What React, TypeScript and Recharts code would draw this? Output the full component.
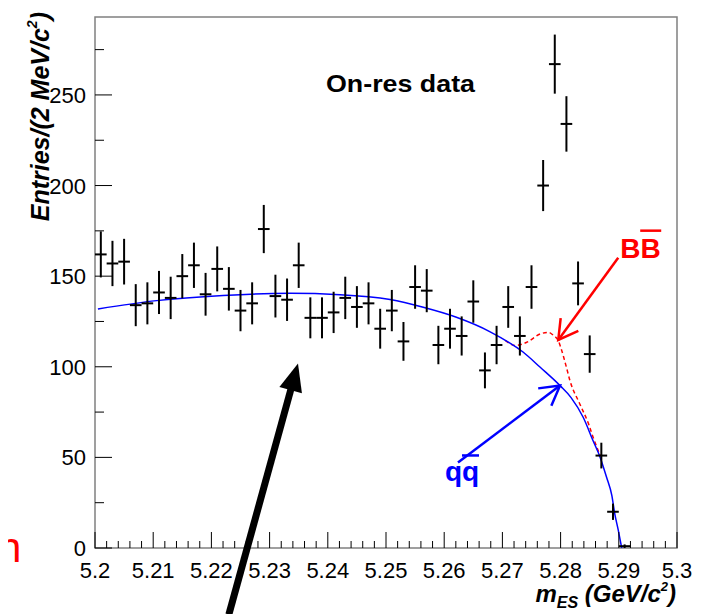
import React from 'react';
import { ComposedChart, Scatter, Line, XAxis, YAxis, ErrorBar, ReferenceArea, ReferenceLine } from 'recharts';

const FONT = '"Liberation Sans", Arial, Helvetica, sans-serif';

// histogram bins (2 MeV wide), counts and their errors
const binCenters = [
  5.201, 5.203, 5.205, 5.207, 5.209, 5.211, 5.213, 5.215, 5.217, 5.219,
  5.221, 5.223, 5.225, 5.227, 5.229, 5.231, 5.233, 5.235, 5.237, 5.239,
  5.241, 5.243, 5.245, 5.247, 5.249, 5.251, 5.253, 5.255, 5.257, 5.259,
  5.261, 5.263, 5.265, 5.267, 5.269, 5.271, 5.273, 5.275, 5.277, 5.279,
  5.281, 5.283, 5.285, 5.287, 5.289, 5.291,
];
const counts = [
  162, 157, 158, 134, 135, 141, 138, 150, 156, 140,
  154, 143, 131, 135, 176, 139, 137, 156, 127, 127,
  130, 138, 133, 135, 121, 131, 114, 144, 142, 112,
  121, 117, 136, 98, 112, 133, 117, 144, 200, 267,
  234, 146, 107, 51, 20, 1,
];
const countErrors = [
  12.7, 12.5, 12.6, 11.6, 11.6, 11.9, 11.7, 12.2, 12.5, 11.8,
  12.4, 12.0, 11.4, 11.6, 13.3, 11.8, 11.7, 12.5, 11.3, 11.3,
  11.4, 11.7, 11.5, 11.6, 11.0, 11.4, 10.7, 12.0, 11.9, 10.6,
  11.0, 10.8, 11.7, 9.9, 10.6, 11.5, 10.8, 12.0, 14.1, 16.3,
  15.3, 12.1, 10.3, 7.1, 4.5, 1.0,
];
const binHalfWidth = 0.001;

// continuum (qq) fit, blue
const bkgMass = [5.2005, 5.2106, 5.222, 5.2335, 5.2421, 5.2507, 5.2564, 5.2621, 5.2679, 5.2736, 5.2765, 5.2799, 5.2818, 5.2839, 5.2856, 5.2868, 5.2879, 5.2888, 5.2893, 5.2899, 5.2905];
const bkgFit = [131.9, 136.5, 139.3, 140.5, 139.8, 137.1, 132.8, 127.3, 119.3, 108, 99.7, 89.6, 83, 72, 59, 50, 39, 29, 19, 10, 0];

// total fit (qq + BB), red dashed, where it leaves the continuum curve
const totMass = [5.2705, 5.2722, 5.2742, 5.2765, 5.2779, 5.2788, 5.2796, 5.2802, 5.281, 5.2816, 5.2833, 5.2848, 5.2856, 5.2868];
const totFit = [114.5, 111.7, 113.5, 118.1, 119, 117.2, 114.4, 108.9, 99.7, 92.4, 79.5, 68.5, 61, 51];

const xMajorTicks = [5.2, 5.21, 5.22, 5.23, 5.24, 5.25, 5.26, 5.27, 5.28, 5.29, 5.3];
const yTicks = [0, 25, 50, 75, 100, 125, 150, 175, 200, 225, 250, 275];
const yMax = 293;

const points = binCenters.map((m, i) => ({ m, n: counts[i], err: countErrors[i], xerr: binHalfWidth }));
const bkgData = bkgMass.map((m, i) => ({ m, v: bkgFit[i] }));
const totData = totMass.map((m, i) => ({ m, v: totFit[i] }));

const xTicks: number[] = [];
xMajorTicks.forEach((t, i) => {
  xTicks.push(t);
  if (i < xMajorTicks.length - 1) {
    for (let k = 1; k < 5; k++) xTicks.push(Number((t + k * 0.002).toFixed(3)));
  }
});

function XTick(props: any) {
  const { x, y, payload } = props;
  const v = payload.value;
  const major = Math.abs(v * 100 - Math.round(v * 100)) < 1e-6;
  return (
    <g>
      <line x1={x} y1={y} x2={x} y2={y - (major ? 16 : 7)} stroke="#000" strokeWidth={1} />
      {major && (
        <text x={x} y={y + 30} textAnchor="middle" fontFamily={FONT} fontSize={22} fill="#000">
          {String(Number(v.toFixed(2)))}
        </text>
      )}
    </g>
  );
}

function YTick(props: any) {
  const { x, y, payload } = props;
  const v = payload.value;
  const major = v % 50 === 0;
  return (
    <g>
      <line x1={x} y1={y} x2={x + (major ? 17 : 9)} y2={y} stroke="#000" strokeWidth={1} />
      {major && (
        <text x={x - 9} y={y + 8} textAnchor="end" fontFamily={FONT} fontSize={22} fill="#000">
          {v}
        </text>
      )}
    </g>
  );
}

function makeArrow(color: string, width: number, filled: boolean, headLen: number, label?: (x: number, y: number) => React.ReactNode) {
  return (p: any) => {
    const { x1, y1, x2, y2 } = p;
    const a = Math.atan2(y1 - y2, x1 - x2);
    const spread = filled ? 0.4 : 0.52;
    const w1 = [x2 + headLen * Math.cos(a + spread), y2 + headLen * Math.sin(a + spread)];
    const w2 = [x2 + headLen * Math.cos(a - spread), y2 + headLen * Math.sin(a - spread)];
    const bx = x2 + headLen * 0.85 * Math.cos(a);
    const by = y2 + headLen * 0.85 * Math.sin(a);
    return (
      <g>
        <line x1={x1} y1={y1} x2={filled ? bx : x2} y2={filled ? by : y2} stroke={color} strokeWidth={width} />
        {filled ? (
          <polygon points={`${x2},${y2} ${w1[0]},${w1[1]} ${w2[0]},${w2[1]}`} fill={color} />
        ) : (
          <polyline points={`${w1[0]},${w1[1]} ${x2},${y2} ${w2[0]},${w2[1]}`} fill="none" stroke={color} strokeWidth={width} />
        )}
        {label && label(x1, y1)}
      </g>
    );
  };
}

const bbLabel = (x: number, y: number) => (
  <g>
    <text x={x + 2} y={y} fontFamily={FONT} fontWeight="bold" fontSize={28} fill="#ff0000">BB</text>
    <line x1={x + 22} y1={y - 27} x2={x + 43} y2={y - 27} stroke="#ff0000" strokeWidth={2.5} />
  </g>
);

const qqLabel = (x: number, y: number) => (
  <g>
    <text x={x - 13} y={y + 19} fontFamily={FONT} fontWeight="bold" fontSize={28} fill="#0000ff">qq</text>
    <line x1={x + 4} y1={y - 7} x2={x + 21} y2={y - 7} stroke="#0000ff" strokeWidth={2.5} />
  </g>
);

export default function App() {
  return (
    <div style={{ position: 'relative', width: 695, height: 606 }}>
      <ComposedChart width={695} height={606} margin={{ top: 9, right: 26, bottom: 0, left: 0 }}>
        <XAxis
          dataKey="m"
          type="number"
          domain={[5.2, 5.3]}
          ticks={xTicks}
          interval={0}
          allowDataOverflow
          height={66}
          axisLine={false}
          tickLine={false}
          tickSize={0}
          tickMargin={0}
          tick={<XTick />}
        />
        <YAxis
          type="number"
          domain={[0, yMax]}
          ticks={yTicks}
          interval={0}
          allowDataOverflow
          width={87}
          axisLine={false}
          tickLine={false}
          tickSize={0}
          tickMargin={0}
          tick={<YTick />}
        />
        <ReferenceArea x1={5.2} x2={5.3} y1={0} y2={yMax} fill="none" stroke="#808080" strokeWidth={1.5} ifOverflow="visible" />
        <Line data={totData} dataKey="v" type="monotone" stroke="#ff0000" strokeDasharray="4 3" strokeWidth={1.5} dot={false} isAnimationActive={false} />
        <Line data={bkgData} dataKey="v" type="monotone" stroke="#0000ff" strokeWidth={1.5} dot={false} isAnimationActive={false} />
        <Scatter data={points} dataKey="n" isAnimationActive={false} shape={() => <g />}>
          <ErrorBar dataKey="err" direction="y" width={0} stroke="#000" strokeWidth={2} isAnimationActive={false} />
          <ErrorBar dataKey="xerr" direction="x" width={0} stroke="#000" strokeWidth={2} isAnimationActive={false} />
        </Scatter>
        <ReferenceLine
          segment={[{ x: 5.2899, y: 160.2 }, { x: 5.2796, y: 114.8 }]}
          ifOverflow="visible"
          shape={makeArrow('#ff0000', 2.5, false, 22, bbLabel)}
        />
        <ReferenceLine
          segment={[{ x: 5.26237, y: 47.2 }, { x: 5.2799, y: 89.6 }]}
          ifOverflow="visible"
          shape={makeArrow('#0000ff', 2.5, false, 22, qqLabel)}
        />
        <ReferenceLine
          segment={[{ x: 5.223, y: -36.7 }, { x: 5.23488, y: 101.8 }]}
          ifOverflow="visible"
          shape={makeArrow('#000000', 7, true, 30)}
        />
      </ComposedChart>
      <svg
        width={703}
        height={614}
        style={{ position: 'absolute', left: -8, top: -8, pointerEvents: 'none' }}
        fontFamily={FONT}
      >
        <text x={326} y={92} fontSize={24} fontWeight="bold" fill="#000" textLength={149} lengthAdjust="spacingAndGlyphs">
          On-res data
        </text>
        <text
          transform="translate(49,12) rotate(-90)"
          textAnchor="end"
          fontSize={25}
          fontWeight="bold"
          fontStyle="italic"
          fill="#000"
        >
          Entries/(2 MeV/c<tspan fontSize={14} dy={-12}>2</tspan>
          <tspan dy={12}>)</tspan>
        </text>
        <text x={676} y={602} textAnchor="end" fontSize={24} fontWeight="bold" fontStyle="italic" fill="#000" style={{ whiteSpace: 'pre' }}>
          m<tspan fontSize={16} dy={6}>ES</tspan>
          <tspan dy={-6}> (GeV/c</tspan>
          <tspan fontSize={13} dy={-11}>2</tspan>
          <tspan dy={11}>)</tspan>
        </text>
        <text x={-2} y={562} fontSize={42} fill="#ff0000">n</text>
      </svg>
    </div>
  );
}
